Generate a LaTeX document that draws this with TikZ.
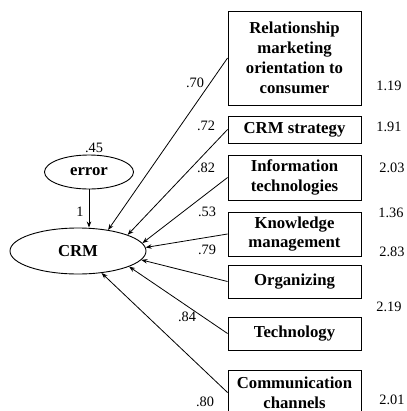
\documentclass[tikz,border=0pt]{standalone}
\usepackage{fontspec}
\setmainfont{Liberation Serif}
\usetikzlibrary{arrows.meta}
\usetikzlibrary{shapes.geometric}

\begin{document}
\begin{tikzpicture}[x=1bp, y=-1bp, >={Stealth[length=6bp,width=4.5bp]},
		box/.style={draw, line width=0.9bp, minimum width=133bp, inner sep=0pt, align=center,
			font=\bfseries\fontsize{16.8}{20}\selectfont},
		latent/.style={draw, ellipse, line width=0.9bp, inner sep=0pt,
			font=\bfseries\fontsize{16.8}{20}\selectfont},
		num/.style={inner sep=0pt, font=\fontsize{14.4}{16}\selectfont},
		path/.style={->, line width=0.8bp}]
		
		\useasboundingbox (0,0) rectangle (407,411);
		
		% Latent variable and its error
		\node[latent, minimum width=89bp, minimum height=34bp] (err) at (89,172) {error};
		\node[latent, minimum width=136bp, minimum height=46bp] (crm) at (78,251) {CRM};
		\draw[path] (err) -- (err |- crm.north);
		\node[num] (e45) at (94,148) {.45};
		\node[num] (e1) at (80,212) {1};
		
		% Indicators
		\node[box, minimum height=94bp] (rmo) at (294.5,58) {Relationship\\marketing\\orientation to\\consumer};
		\node[box, minimum height=27bp] (strat) at (294.5,129.5) {CRM strategy};
		\node[box, minimum height=45bp] (info) at (294.5,177.5) {Information\\technologies};
		\node[box, minimum height=44bp] (know) at (294.5,234) {Knowledge\\management};
		\node[box, minimum height=33bp] (org) at (294.5,281.5) {Organizing};
		\node[box, minimum height=33bp] (tech) at (294.5,333.5) {Technology};
		\node[box, minimum height=45bp] (comm) at (294.5,392.5) {Communication\\channels};
		
		% Loadings
		\draw[path] (rmo.west) -- (crm.35);
		\draw[path] (strat.west) -- (crm.18);
		\draw[path] (info.west) -- (crm.7);
		\draw[path] (know.west) -- (crm.3);
		\draw[path] (org.west) -- (crm.-8);
		\draw[path] (tech.west) -- (crm.-17);
		\draw[path] (comm.west) -- (crm.-43);
		
		\node[num] (l70) at (195,83) {.70};
		\node[num] (l72) at (206,126) {.72};
		\node[num] (l82) at (206,168) {.82};
		\node[num] (l53) at (207,212) {.53};
		\node[num] (l79) at (207,250) {.79};
		\node[num] (l84) at (187,317) {.84};
		\node[num] (l80) at (205,402) {.80};
		
		% Values on the right
		\node[num] (v119) at (389,86) {1.19};
		\node[num] (v191) at (389,127) {1.91};
		\node[num] (v203) at (392,168) {2.03};
		\node[num] (v136) at (391,213) {1.36};
		\node[num] (v283) at (392,252) {2.83};
		\node[num] (v219) at (389,307) {2.19};
		\node[num] (v201) at (392,400) {2.01};
		
	\end{tikzpicture}
\end{document}
